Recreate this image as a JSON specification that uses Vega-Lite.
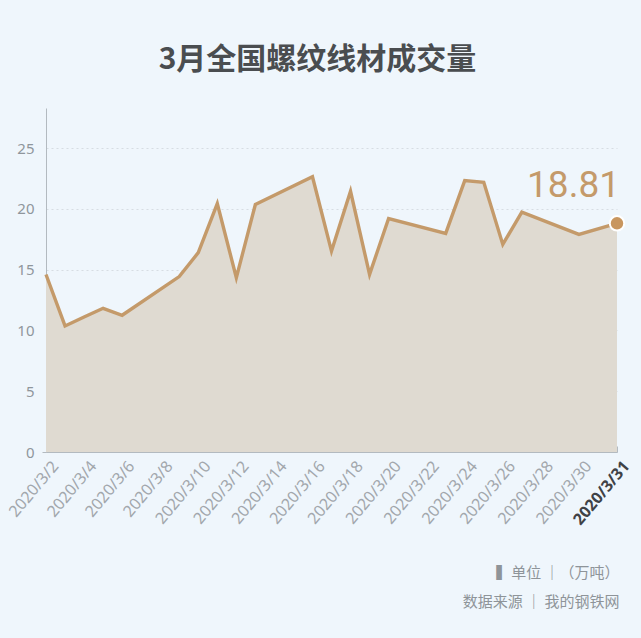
{
  "$schema": "https://vega.github.io/schema/vega-lite/v6.json",
  "width": 571,
  "height": 344,
  "autosize": {"type": "none"},
  "padding": {"left": 46, "top": 108, "right": 24, "bottom": 186},
  "background": "#EFF6FC",
  "config": {
    "view": {"stroke": null},
    "font": "Noto Sans CJK SC"
  },
  "title": {
    "text": "3月全国螺纹线材成交量",
    "font": "Noto Sans CJK SC",
    "fontSize": 30,
    "fontWeight": "bold",
    "color": "#4A4D50",
    "anchor": "middle",
    "dx": -14,
    "offset": 33
  },
  "data": {
    "values": [
      {"date": "2020/3/2", "value": 14.6},
      {"date": "2020/3/3", "value": 10.37},
      {"date": "2020/3/4", "value": 11.1},
      {"date": "2020/3/5", "value": 11.82},
      {"date": "2020/3/6", "value": 11.25},
      {"date": "2020/3/9", "value": 14.43},
      {"date": "2020/3/10", "value": 16.4},
      {"date": "2020/3/11", "value": 20.44},
      {"date": "2020/3/12", "value": 14.34},
      {"date": "2020/3/13", "value": 20.36},
      {"date": "2020/3/16", "value": 22.64},
      {"date": "2020/3/17", "value": 16.53},
      {"date": "2020/3/18", "value": 21.45},
      {"date": "2020/3/19", "value": 14.61},
      {"date": "2020/3/20", "value": 19.21},
      {"date": "2020/3/23", "value": 17.98},
      {"date": "2020/3/24", "value": 22.33},
      {"date": "2020/3/25", "value": 22.19},
      {"date": "2020/3/26", "value": 17.08},
      {"date": "2020/3/27", "value": 19.73},
      {"date": "2020/3/30", "value": 17.9},
      {"date": "2020/3/31", "value": 18.81}
    ]
  },
  "encoding": {
    "x": {
      "field": "date",
      "type": "ordinal",
      "sort": null,
      "scale": {
        "type": "point",
        "padding": 0,
        "domain": ["2020/3/2","2020/3/3","2020/3/4","2020/3/5","2020/3/6","2020/3/7","2020/3/8","2020/3/9","2020/3/10","2020/3/11","2020/3/12","2020/3/13","2020/3/14","2020/3/15","2020/3/16","2020/3/17","2020/3/18","2020/3/19","2020/3/20","2020/3/21","2020/3/22","2020/3/23","2020/3/24","2020/3/25","2020/3/26","2020/3/27","2020/3/28","2020/3/29","2020/3/30"," ","2020/3/31"]
      },
      "axis": {
        "values": ["2020/3/2","2020/3/4","2020/3/6","2020/3/8","2020/3/10","2020/3/12","2020/3/14","2020/3/16","2020/3/18","2020/3/20","2020/3/22","2020/3/24","2020/3/26","2020/3/28","2020/3/30","2020/3/31"],
        "labelAngle": -50,
        "labelOverlap": false,
        "labelFont": "Noto Sans",
        "labelFontSize": 16,
        "labelColor": {"condition": {"test": "datum.value === '2020/3/31'", "value": "#3F4246"}, "value": "#A2A7AC"},
        "labelFontWeight": {"condition": {"test": "datum.value === '2020/3/31'", "value": "bold"}, "value": "normal"},
        "labelPadding": 17,
        "labelOffset": 9,
        "labelBound": false,
        "tickSize": -6,
        "tickColor": "#B3BAC0",
        "domainColor": "#B3BAC0",
        "grid": false,
        "title": ["▍单位 ｜（万吨）", "数据来源 ｜ 我的钢铁网"],
        "titleAnchor": "end",
        "titleAlign": "right",
        "titleX": 573,
        "titleFont": "Noto Sans CJK SC",
        "titleFontSize": 15,
        "titleFontWeight": "normal",
        "titleColor": "#8E9499",
        "titleLineHeight": 29,
        "titlePadding": 38
      }
    },
    "y": {
      "field": "value",
      "type": "quantitative",
      "scale": {"domain": [0, 28.3], "nice": false},
      "axis": {
        "values": [0, 5, 10, 15, 20, 25],
        "title": null,
        "labelFont": "Noto Sans",
        "labelFontSize": 15,
        "labelColor": "#8F969C",
        "labelPadding": 8,
        "tickSize": 4,
        "tickColor": {"condition": {"test": "datum.value === 0", "value": "#B3BAC0"}, "value": "transparent"},
        "domainColor": "#B3BAC0",
        "gridColor": "#D6DDE3",
        "gridDash": [2, 3],
        "gridWidth": 1
      }
    }
  },
  "layer": [
    {"mark": {"type": "area", "color": "#DFDAD1", "opacity": 1}},
    {"mark": {"type": "line", "color": "#C49A6A", "strokeWidth": 3.4}},
    {
      "transform": [{"filter": "datum.date === '2020/3/31'"}],
      "mark": {"type": "point", "filled": true, "color": "#C8965F", "stroke": "#FFFFFF", "strokeWidth": 2, "size": 210, "opacity": 1}
    },
    {
      "transform": [{"filter": "datum.date === '2020/3/31'"}],
      "mark": {"type": "text", "align": "right", "baseline": "alphabetic", "dx": 3, "dy": -26, "fontSize": 37, "font": "Roboto", "color": "#C49A6A"},
      "encoding": {"text": {"field": "value", "type": "quantitative", "format": ".2f"}}
    }
  ]
}
